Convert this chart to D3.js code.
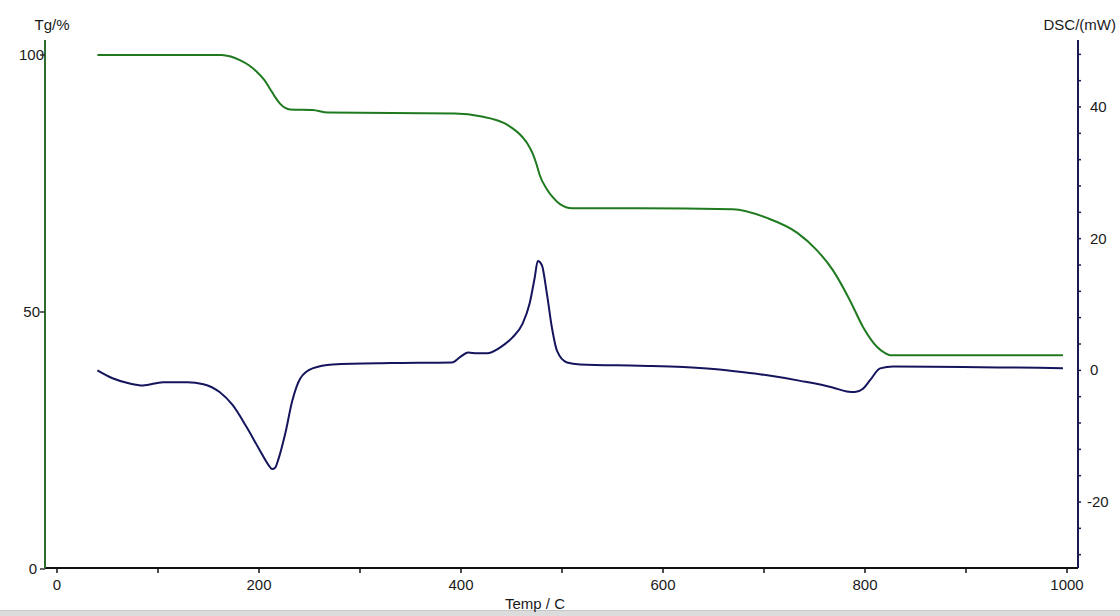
<!DOCTYPE html>
<html><head><meta charset="utf-8">
<script src="https://cdn.jsdelivr.net/npm/d3@7"></script>
<style>body{margin:0;background:#fff;}svg{display:block;font-family:"Liberation Sans",Arial,sans-serif;}</style>
</head><body>
<svg id="c" width="1120" height="616"></svg>
<script>
// Temperature (°C) and TG (%) readings
const tgTemp = [40, 163, 172, 181, 190, 198, 205, 211, 216, 221, 226, 231, 253, 268, 394, 419, 446, 461, 466, 471, 475, 478, 485, 491, 498, 510, 577, 669, 703, 733, 752, 768, 785, 798, 812, 820, 825, 996];
const tgVal  = [100, 100, 99.7, 99.0, 98.0, 96.7, 95.2, 93.4, 91.8, 90.5, 89.7, 89.4, 89.3, 88.8, 88.6, 88.1, 86.4, 84.0, 82.7, 80.8, 78.6, 76.6, 73.9, 72.3, 71.0, 70.2, 70.2, 70.0, 68.3, 65.4, 62.1, 58.2, 52.3, 47.1, 43.2, 42.0, 41.6, 41.6];
// Temperature (°C) and DSC (mW) readings
const dscTemp = [40, 55, 72, 85, 105, 129, 145, 161, 174, 188, 201, 210, 213, 216, 219, 226, 233, 241, 253, 273, 330, 391, 399, 407, 416, 426, 439, 451, 461, 468, 473, 476, 480, 485, 490, 495, 505, 518, 577, 620, 650, 680, 705, 736, 768, 782, 790, 798, 805, 815, 828, 996];
const dscVal  = [0.0, -1.2, -2.0, -2.3, -1.8, -1.8, -2.1, -3.3, -5.3, -8.7, -12.2, -14.5, -15.0, -14.8, -13.6, -9.6, -4.6, -1.2, 0.3, 0.9, 1.1, 1.2, 2.0, 2.7, 2.6, 2.6, 3.5, 5.0, 7.1, 10.2, 14.1, 16.6, 16.0, 11.7, 6.5, 3.0, 1.2, 0.9, 0.7, 0.5, 0.2, -0.3, -0.8, -1.6, -2.6, -3.2, -3.3, -2.8, -1.5, 0.3, 0.6, 0.3];
const xTicks = [0, 200, 400, 600, 800, 1000];
const tgTicks = [0, 50, 100];
const dscTicks = [-20, 0, 20, 40];

const svg = d3.select("#c");
const x = d3.scaleLinear().domain([0, 1000]).range([57, 1067]);
const yL = d3.scaleLinear().domain([0, 100]).range([569, 55]);
const yR = d3.scaleLinear().domain([-20, 40]).range([502, 107]);
const plotTop = 40, plotBottom = 568, leftX = 45, rightX = 1078;

// bottom gray band (window edge)
svg.append("rect").attr("x",0).attr("y",610).attr("width",1120).attr("height",6).attr("fill","#dcdcdc");
svg.append("line").attr("x1",0).attr("x2",1120).attr("y1",610.5).attr("y2",610.5).attr("stroke","#c8c8c8");

// X axis
svg.append("line").attr("x1",leftX).attr("x2",rightX).attr("y1",plotBottom).attr("y2",plotBottom).attr("stroke","#111").attr("stroke-width",2);
const xMinor = d3.range(0, 1001, 100);
svg.selectAll(".xt").data(xMinor).enter().append("line")
  .attr("x1",d=>x(d)).attr("x2",d=>x(d)).attr("y1",plotBottom).attr("y2",plotBottom+5).attr("stroke","#111").attr("stroke-width",1.5);
svg.selectAll(".xl").data(xTicks).enter().append("text")
  .attr("x",d=>x(d)).attr("y",590).attr("text-anchor","middle").attr("font-size",15).attr("fill","#1a1a1a").text(d=>d);
svg.append("text").attr("x",535).attr("y",609).attr("text-anchor","middle").attr("font-size",15).attr("fill","#1a1a1a").text("Temp / C");

// Left axis (TG)
svg.append("line").attr("x1",leftX).attr("x2",leftX).attr("y1",plotTop).attr("y2",plotBottom).attr("stroke","#2e6b2e").attr("stroke-width",2);
svg.selectAll(".lt").data(tgTicks).enter().append("line")
  .attr("x1",leftX-5).attr("x2",leftX).attr("y1",d=>yL(d)).attr("y2",d=>yL(d)).attr("stroke","#333").attr("stroke-width",1.5);
svg.selectAll(".ll").data(tgTicks).enter().append("text")
  .attr("x",d=>d===100?44:d===50?40:37).attr("y",d=>yL(d)+5).attr("text-anchor","end").attr("font-size",15).attr("fill","#1a1a1a").text(d=>d);
svg.append("text").attr("x",52).attr("y",30).attr("text-anchor","middle").attr("font-size",15).attr("fill","#1a1a1a").text("Tg/%");

// Right axis (DSC)
svg.append("line").attr("x1",rightX).attr("x2",rightX).attr("y1",plotTop).attr("y2",plotBottom).attr("stroke","#1a1a50").attr("stroke-width",2);
const rMinor = d3.range(-28, 49, 4);
svg.selectAll(".rt").data(rMinor).enter().append("line")
  .attr("x1",rightX).attr("x2",rightX+3).attr("y1",d=>yR(d)).attr("y2",d=>yR(d)).attr("stroke","#1a1a50").attr("stroke-width",1.5);
svg.selectAll(".rl").data(dscTicks).enter().append("text")
  .attr("x",d=>d<0?1087:1090).attr("y",d=>yR(d)+5).attr("text-anchor","start").attr("font-size",15).attr("fill","#1a1a1a").text(d=>d);
svg.append("text").attr("x",1116).attr("y",30).attr("text-anchor","end").attr("font-size",15).attr("fill","#1a1a1a").text("DSC/(mW)");

// Curves
const tgData = tgTemp.map((t,i)=>[t, tgVal[i]]);
const dscData = dscTemp.map((t,i)=>[t, dscVal[i]]);
svg.append("path").datum(tgData)
  .attr("d", d3.line().x(d=>x(d[0])).y(d=>yL(d[1])).curve(d3.curveMonotoneX))
  .attr("fill","none").attr("stroke","#1f7a1f").attr("stroke-width",2);
svg.append("path").datum(dscData)
  .attr("d", d3.line().x(d=>x(d[0])).y(d=>yR(d[1])).curve(d3.curveMonotoneX))
  .attr("fill","none").attr("stroke","#15155e").attr("stroke-width",2);
</script>
</body></html>
